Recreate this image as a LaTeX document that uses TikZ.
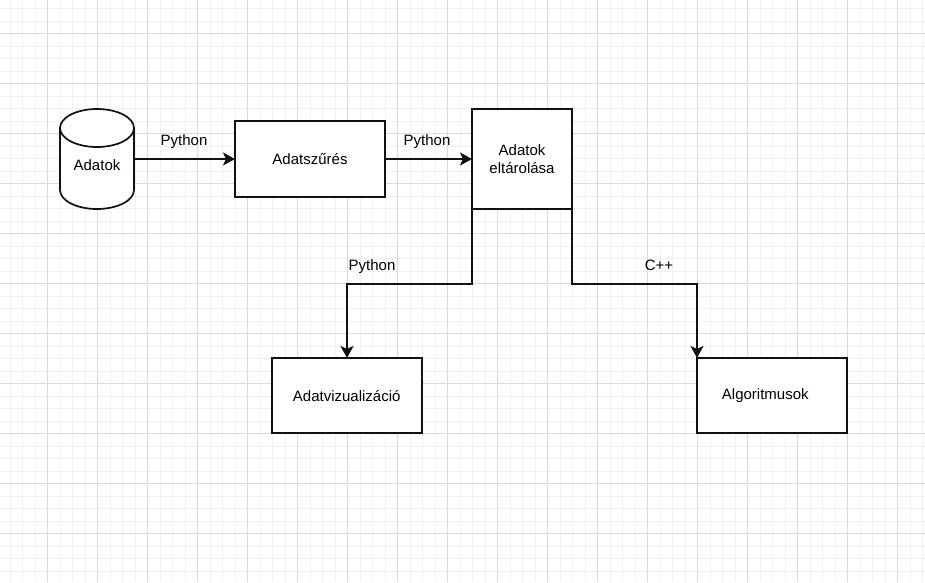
\documentclass[tikz,border=0pt]{standalone}
\usepackage{fontspec}
\setmainfont{Liberation Sans}
\usetikzlibrary{arrows.meta}
\definecolor{gridminor}{HTML}{F0F0F0}
\definecolor{gridmajor}{HTML}{DADADA}
\definecolor{ink}{HTML}{111111}
\tikzset{
  boxnode/.style={draw=ink, line width=1.7pt, fill=white, inner sep=0pt, outer sep=0pt, minimum width=150pt, minimum height=75pt, font=\fontsize{15}{18}\selectfont, align=center},
  conn/.style={draw=ink, line width=1.7pt, -{Stealth[length=12pt,width=13pt,inset=3pt]}},
  lbl/.style={font=\fontsize{15}{18}\selectfont, inner sep=0pt, outer sep=0pt},
  cylline/.style={draw=ink, line width=1.7pt, fill=white}
}
\begin{document}
\begin{tikzpicture}[x=1pt,y=-1pt]
\useasboundingbox (0,0) rectangle (925,582);
\fill[white] (0,0) rectangle (925,582);
% grid
\foreach \i in {0,...,73} {
  \draw[gridminor, line width=1pt] ({10+12.5*\i},0) -- ({10+12.5*\i},582);
}
\foreach \j in {0,...,46} {
  \draw[gridminor, line width=1pt] (0,{8.5+12.5*\j}) -- (925,{8.5+12.5*\j});
}
\foreach \i in {0,...,17} {
  \draw[gridmajor, line width=1pt] ({47.5+50*\i},0) -- ({47.5+50*\i},582);
}
\foreach \j in {0,...,11} {
  \draw[gridmajor, line width=1pt] (0,{33.5+50*\j}) -- (925,{33.5+50*\j});
}
% cylinder
\path[cylline] (60,128) -- (60,190) arc[start angle=180, end angle=0, x radius=37, y radius=19] -- (134,128) arc[start angle=0, end angle=-180, x radius=37, y radius=19] -- cycle;
\draw[draw=ink, line width=1.7pt] (60,128) arc[start angle=180, end angle=0, x radius=37, y radius=19];
\node[lbl, minimum width=74pt, minimum height=100pt] (cyl) at (97,159) {};
\node[lbl] (cyltext) at (97,165) {Adatok};
% boxes
\node[boxnode, minimum height=76pt] (szur) at (310,159) {Adatszűrés};
\node[boxnode, minimum width=100pt, minimum height=100pt] (tar) at (522,159) {Adatok\\eltárolása};
\node[boxnode] (viz) at (347,395.5) {};
\node[lbl] (viztext) at (346.7,396) {Adatvizualizáció};
\node[boxnode] (alg) at (772,395.5) {};
\node[lbl] (algtext) at (765.3,396) {Algoritmusok};
% connectors
\draw[conn] (cyl.east) -- (szur.west);
\draw[conn] (szur.east) -- (tar.west);
\coordinate (b1) at (472,284);
\coordinate (b2) at (347,284);
\coordinate (c1) at (572,284);
\coordinate (c2) at (697,284);
\draw[conn] (tar.south west) -- (b1) -- (b2) -- (viz.north);
\draw[conn] (tar.south east) -- (c1) -- (c2) -- (alg.north west);
% labels
\node[lbl] (l1) at (184,141.5) {Python};
\node[lbl] (l2) at (427,141.5) {Python};
\node[lbl] (l3) at (372,266.5) {Python};
\node[lbl] (l4) at (659,265) {C++};
\end{tikzpicture}
\end{document}
